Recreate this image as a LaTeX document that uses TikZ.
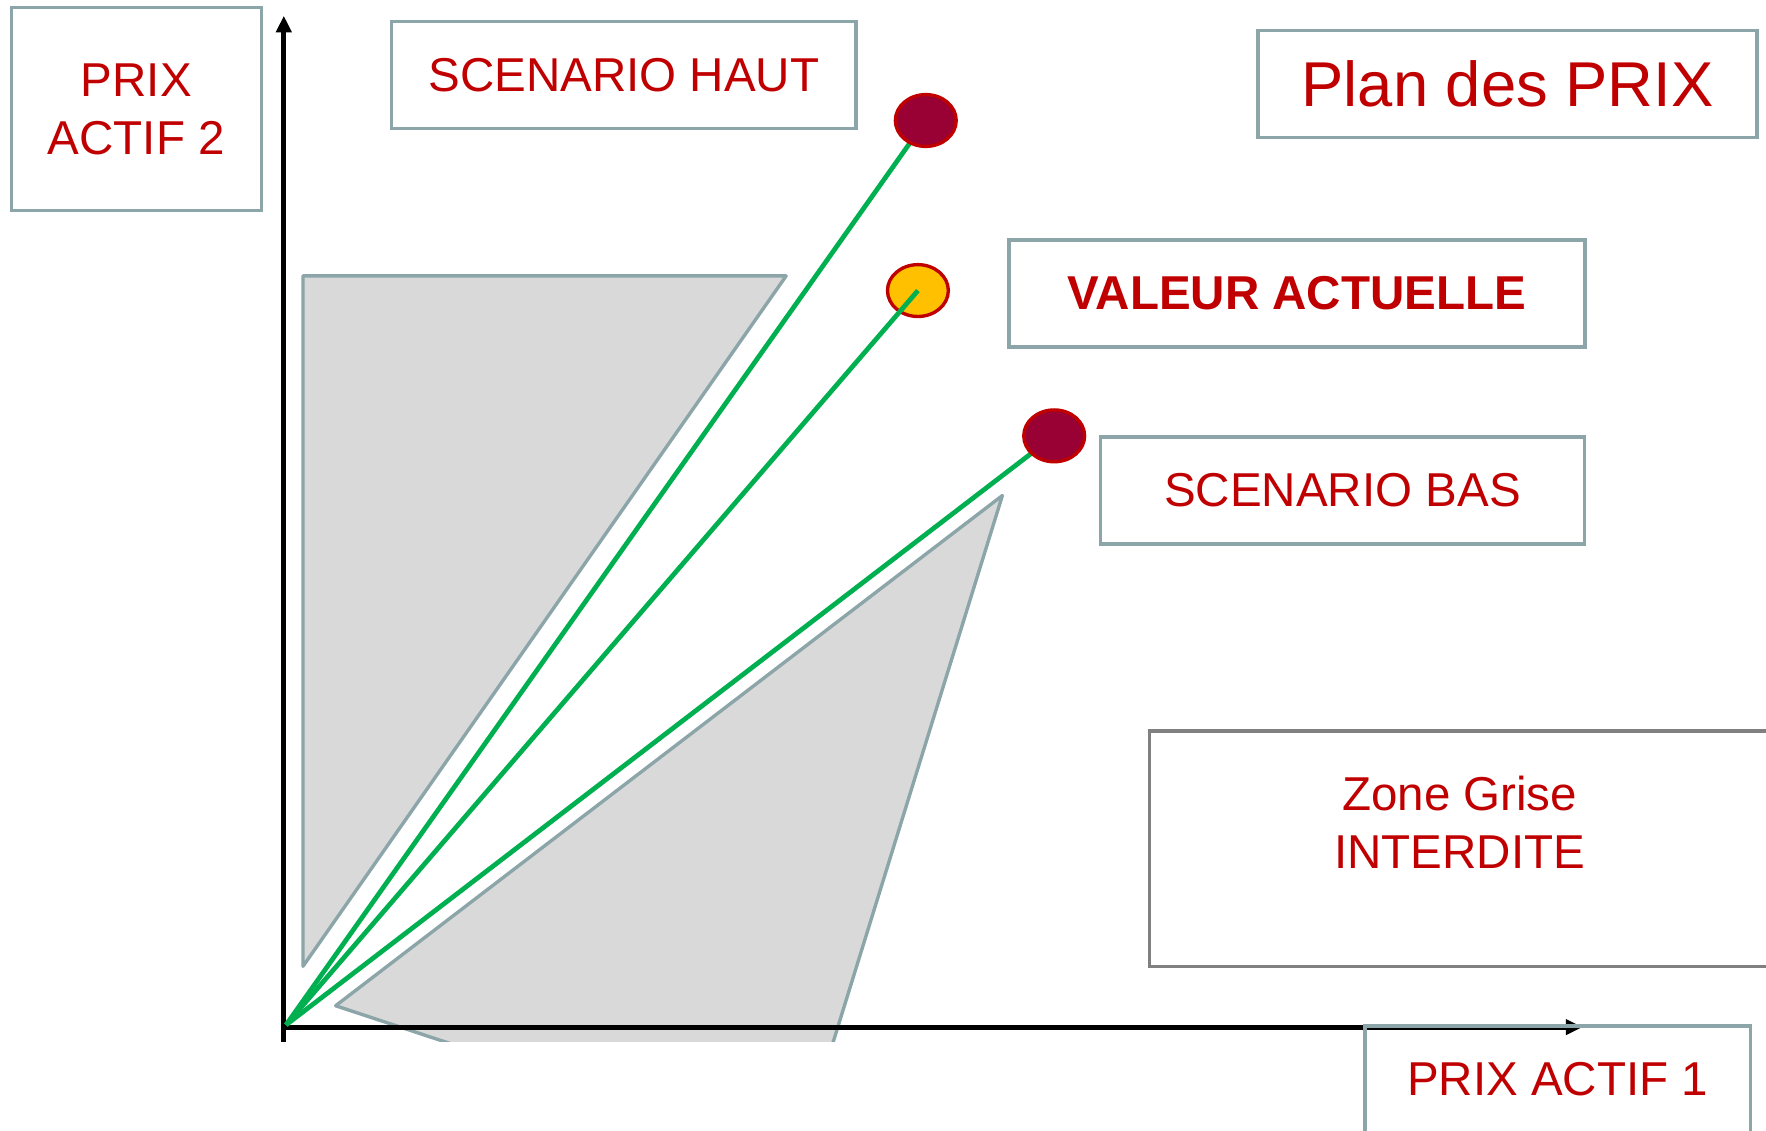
\documentclass[tikz,border=0pt]{standalone}
\usepackage{fontspec}
\setmainfont{Liberation Sans}
\usetikzlibrary{arrows.meta,shapes.geometric}
\definecolor{boxline}{HTML}{8CA5A8}
\definecolor{zoneline}{HTML}{808080}
\definecolor{redtext}{HTML}{C00000}
\definecolor{zonefill}{HTML}{D9D9D9}
\definecolor{raygreen}{HTML}{00B050}
\definecolor{crimson}{HTML}{990033}
\definecolor{amber}{HTML}{FFC000}
\begin{document}
\begin{tikzpicture}[x=0.01cm,y=-0.01cm,
  labelbox/.style={draw=boxline, line width=0.85pt, text=redtext,
    font=\fontsize{12}{14.5}\selectfont, align=center, inner sep=0pt,
    minimum height=0.95cm},
  forbidden/.style={fill=zonefill, draw=boxline, line width=0.85pt, line join=round},
  axis/.style={line width=1.25pt, -{Triangle[length=4.2pt,width=3.8pt]}},
  ray/.style={draw=raygreen, line width=1.2pt},
  dot/.style={ellipse, draw=redtext, line width=0.85pt, inner sep=0pt,
    minimum width=0.54cm, minimum height=0.46cm}
]
\useasboundingbox (0,0) rectangle (1568,1004);
\clip (0,0) rectangle (1568,1004);

% forbidden (grey) zones and axes, cut off at the bottom of the slide area
\begin{scope}
  \clip (0,0) rectangle (1568,925);
  \draw[forbidden] (269,245) -- (698,245) -- (269,858) -- cycle;
  \draw[forbidden] (890,440) -- (298,893) -- (501,960) -- (729,960) -- cycle;
  \coordinate (origin) at (254,910);
  \coordinate (ytip) at (252,14);
  \coordinate (xtip) at (1405,912);
  \coordinate (ybase) at (252,930);
  \coordinate (xbase) at (250,912);
  \draw[axis] (ybase) -- (ytip);
  \draw[axis] (xbase) -- (xtip);
\end{scope}

% price scenarios
\node[dot, fill=amber] (actuel) at (815,258) {};
\draw[ray] (origin) -- (actuel.center);
\draw[ray] (origin) -- (822,107) coordinate (hautend);
\draw[ray] (origin) -- (936,387) coordinate (basend);
\node[dot, fill=crimson] (hautdot) at (hautend) {};
\node[dot, fill=crimson] (basdot) at (basend) {};

% labels
\node[labelbox, minimum width=2.22cm, minimum height=1.80cm] (prix2) at (121,97) {PRIX\\ACTIF 2};
\node[labelbox, minimum width=4.12cm] (haut) at (554,66.5) {SCENARIO HAUT};
\node[labelbox, minimum width=4.43cm, font=\fontsize{16}{19}\selectfont] (titre) at (1338.5,74.5) {Plan des PRIX};
\node[labelbox, minimum width=5.11cm, font=\fontsize{12}{14.5}\selectfont\bfseries] (valeur) at (1151.5,260.5) {VALEUR ACTUELLE};
\node[labelbox, minimum width=4.30cm] (bas) at (1192,435.5) {SCENARIO BAS};
\node[labelbox, draw=zoneline, minimum width=5.60cm, minimum height=2.09cm] (zone) at (1301,753.5) {};
\node[text=redtext, font=\fontsize{12}{14.5}\selectfont, align=center, inner sep=0pt] (zonetxt) at (1296,730) {Zone Grise\\INTERDITE};
\node[labelbox, minimum width=3.42cm] (prix1) at (1383,958.5) {PRIX ACTIF 1};
\end{tikzpicture}
\end{document}
